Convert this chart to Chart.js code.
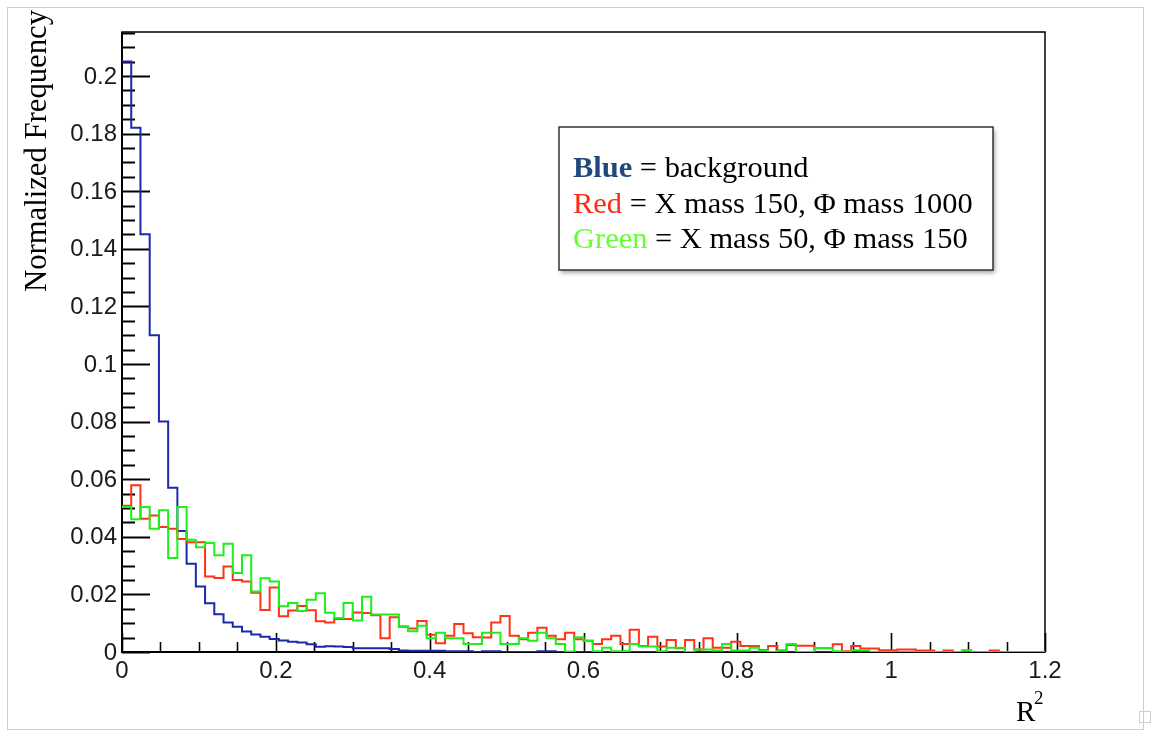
<!DOCTYPE html>
<html>
<head>
<meta charset="utf-8">
<script src="https://cdn.jsdelivr.net/npm/chart.js@4.4.1/dist/chart.umd.min.js"></script>
<style>
html, body { margin: 0; padding: 0; background: #fff; }
</style>
</head>
<body>
<canvas id="chart" width="1151" height="732"></canvas>
<script>
var binWidth = 0.012;
var xMax = 1.2;
var yMax = 0.21525;

// background
var blueValues = [
	0.205, 0.182, 0.145, 0.110, 0.080, 0.057, 0.042, 0.0306, 0.0227, 0.0169,
	0.0131, 0.0102, 0.0088, 0.0071, 0.0061, 0.0053, 0.0045, 0.0040, 0.0036, 0.0033,
	0.0027, 0.0018, 0.0020, 0.0019, 0.0017, 0.0013, 0.0013, 0.0013, 0.0013, 0.0010,
	0.0005, 0.0004, 0.0004, 0.0004, 0.0004, 0.0003, 0.0003, 0.0003, 0, 0.0003,
	0.0003, 0, 0, 0, 0, 0.0003, 0.0003, 0, 0, 0,
	0, 0, 0, 0, 0, 0, 0, 0, 0, 0,
	0, 0, 0, 0, 0, 0, 0, 0, 0, 0,
	0, 0, 0, 0, 0, 0, 0, 0, 0, 0,
	0, 0, 0, 0, 0, 0, 0, 0, 0, 0,
	0, 0, 0, 0, 0, 0, 0, 0, 0, 0
];
// X mass 150, Phi mass 1000
var redValues = [
	0.0508, 0.0579, 0.0463, 0.0474, 0.0434, 0.0428, 0.0392, 0.0381, 0.0381, 0.0262,
	0.0257, 0.0297, 0.0250, 0.0245, 0.0206, 0.0146, 0.0224, 0.0124, 0.0144, 0.0160,
	0.0145, 0.0107, 0.0102, 0.0115, 0.0115, 0.0137, 0.0135, 0.0128, 0.0048, 0.0121,
	0.0088, 0.0082, 0.0108, 0.0060, 0.0030, 0.0056, 0.0097, 0.0065, 0.0051, 0.0050,
	0.0102, 0.0125, 0.0056, 0.0044, 0.0067, 0.0084, 0.0056, 0.0044, 0.0067, 0.0044,
	0.0039, 0.0028, 0.0044, 0.0056, 0.0028, 0.0077, 0.0021, 0.0053, 0.0019, 0.0042,
	0.0013, 0.0042, 0.0009, 0.0048, 0.0015, 0.0015, 0.0036, 0.0021, 0.0021, 0.0007,
	0.0021, 0.0005, 0.0024, 0.0022, 0.0022, 0.0013, 0.0013, 0.0027, 0.0003, 0.0021,
	0.0012, 0.0012, 0.0006, 0.0006, 0.0009, 0.0009, 0.0005, 0.0005, 0, 0.0005,
	0, 0.0004, 0, 0, 0.0005, 0, 0, 0, 0, 0
];
// X mass 50, Phi mass 150
var greenValues = [
	0.0503, 0.0461, 0.0503, 0.0428, 0.0492, 0.0326, 0.0503, 0.0390, 0.0364, 0.0378,
	0.0336, 0.0376, 0.0274, 0.0336, 0.0210, 0.0256, 0.0245, 0.0159, 0.0170, 0.0142,
	0.0181, 0.0204, 0.0136, 0.0118, 0.0170, 0.0109, 0.0192, 0.0130, 0.0130, 0.0130,
	0.0089, 0.0072, 0.0091, 0.0048, 0.0067, 0.0048, 0.0048, 0.0028, 0.0028, 0.0067,
	0.0067, 0.0028, 0.0028, 0.0048, 0.0039, 0.0067, 0.0048, 0.0028, 0.0002, 0.0051,
	0.0039, 0.0003, 0.0015, 0.0003, 0.0003, 0.0028, 0.0019, 0.0019, 0.0003, 0.0015,
	0.0015, 0, 0.0009, 0.0009, 0.0005, 0.0028, 0.0005, 0.0005, 0.0015, 0.0005,
	0, 0.0005, 0.0028, 0, 0, 0.0014, 0.0014, 0.0003, 0, 0.0006,
	0.0006, 0, 0, 0, 0, 0, 0, 0, 0, 0,
	0, 0.0006, 0, 0, 0, 0, 0, 0, 0, 0
];

var xTickValues = [0, 0.2, 0.4, 0.6, 0.8, 1, 1.2];
var xTickLabels = ['0', '0.2', '0.4', '0.6', '0.8', '1', '1.2'];
var xMinorStep = 0.05;
var yTickValues = [0, 0.02, 0.04, 0.06, 0.08, 0.1, 0.12, 0.14, 0.16, 0.18, 0.2];
var yTickLabels = ['0', '0.02', '0.04', '0.06', '0.08', '0.1', '0.12', '0.14', '0.16', '0.18', '0.2'];
var yMinorStep = 0.005;

var legendLines = [
	{ key: 'Blue', keyColor: '#1f497d', bold: true, rest: ' = background' },
	{ key: 'Red', keyColor: '#ff2a10', bold: false, rest: ' = X mass 150, \u03A6 mass 1000' },
	{ key: 'Green', keyColor: '#66ff33', bold: false, rest: ' = X mass 50, \u03A6 mass 150' }
];

// one point per bin at its lower edge, plus the closing edge
function histPoints(values) {
	var pts = values.map(function (v, i) { return { x: i * binWidth, y: v }; });
	pts.push({ x: values.length * binWidth, y: 0 });
	return pts;
}

var serif = '"Liberation Serif", "Times New Roman", serif';
var sans = '"Liberation Sans", Arial, Helvetica, sans-serif';

var rootAxes = {
	id: 'rootAxes',
	beforeDatasetsDraw: function (chart) {
		var c = chart.ctx, a = chart.chartArea;
		var xs = chart.scales.x, ys = chart.scales.y;
		c.save();
		c.strokeStyle = '#000';
		c.lineWidth = 1.5;
		c.strokeRect(a.left, a.top, a.right - a.left, a.bottom - a.top);
		c.lineWidth = 2;
		c.beginPath();
		c.moveTo(a.left, a.top); c.lineTo(a.left, a.bottom); c.lineTo(a.right, a.bottom);
		c.stroke();

		// y ticks, pointing inwards
		var n = Math.floor(yMax / yMinorStep + 1e-6);
		c.lineWidth = 2;
		for (var k = 0; k <= n; k++) {
			var py = Math.round(ys.getPixelForValue(k * yMinorStep)) + 0.5;
			var len = (k % 4 === 0) ? 28 : 13;
			c.beginPath(); c.moveTo(a.left, py); c.lineTo(a.left + len, py); c.stroke();
		}
		// x ticks, pointing up
		var m = Math.round(xMax / xMinorStep);
		c.lineWidth = 1.6;
		for (var j = 0; j <= m; j++) {
			var px = Math.round(xs.getPixelForValue(j * xMinorStep)) + 0.5;
			var l2 = (j % 4 === 0) ? 19 : 10;
			c.beginPath(); c.moveTo(px, a.bottom); c.lineTo(px, a.bottom - l2); c.stroke();
		}

		c.fillStyle = '#1a1a1a';
		c.font = '24px ' + sans;
		c.textAlign = 'right'; c.textBaseline = 'middle';
		yTickValues.forEach(function (v, i) {
			c.fillText(yTickLabels[i], a.left - 5, ys.getPixelForValue(v) + 1);
		});
		c.textAlign = 'center'; c.textBaseline = 'top';
		xTickValues.forEach(function (v, i) {
			c.fillText(xTickLabels[i], xs.getPixelForValue(v), a.bottom + 7);
		});
		c.restore();
	},
	afterDraw: function (chart) {
		var c = chart.ctx;
		c.save();
		// outer picture border
		c.strokeStyle = '#cfcfcf'; c.lineWidth = 1;
		c.strokeRect(7.5, 7.5, 1136, 722);
		c.strokeRect(1139.5, 711.5, 11, 11);

		// axis titles
		c.fillStyle = '#000';
		c.font = '31px ' + serif;
		var yTitle = 'Normalized Frequency';
		var w = c.measureText(yTitle).width;
		c.save();
		c.translate(46, 10);
		c.rotate(-Math.PI / 2);
		c.scale(282 / w, 1);
		c.textAlign = 'right'; c.textBaseline = 'alphabetic';
		c.fillText(yTitle, 0, 0);
		c.restore();

		c.textAlign = 'left'; c.textBaseline = 'alphabetic';
		c.font = '29px ' + serif;
		c.fillText('R', 1016, 721);
		c.font = '19px ' + serif;
		c.fillText('2', 1034, 704);

		// legend box
		c.save();
		c.shadowColor = 'rgba(0,0,0,0.35)';
		c.shadowBlur = 4; c.shadowOffsetX = 2; c.shadowOffsetY = 3;
		c.fillStyle = '#fff';
		c.fillRect(559, 127, 434, 143);
		c.restore();
		c.strokeStyle = '#333'; c.lineWidth = 1.5;
		c.strokeRect(559, 127, 434, 143);

		c.font = '30px ' + serif;
		var wRef = c.measureText(legendLines[1].key + legendLines[1].rest).width;
		var size = 30 * 400 / wRef;
		var baselines = [177, 213, 248];
		legendLines.forEach(function (ln, i) {
			var x = 573;
			c.font = (ln.bold ? 'bold ' : '') + size + 'px ' + serif;
			c.fillStyle = ln.keyColor;
			c.fillText(ln.key, x, baselines[i]);
			x += c.measureText(ln.key).width;
			c.font = size + 'px ' + serif;
			c.fillStyle = '#000';
			c.fillText(ln.rest, x, baselines[i]);
		});
		c.restore();
	}
};

var ctx = document.getElementById('chart').getContext('2d');
new Chart(ctx, {
	type: 'line',
	data: {
		datasets: [
			{ label: 'Blue', data: histPoints(blueValues), borderColor: '#1a2aa8', order: 3 },
			{ label: 'Red', data: histPoints(redValues), borderColor: '#ff3318', order: 2 },
			{ label: 'Green', data: histPoints(greenValues), borderColor: '#1cf01c', order: 1 }
		]
	},
	options: {
		responsive: false,
		animation: false,
		devicePixelRatio: 1,
		layout: { padding: { left: 122, top: 32, right: 106, bottom: 80 } },
		plugins: { legend: { display: false }, tooltip: { enabled: false } },
		elements: {
			point: { radius: 0 },
			// horizontal at the bin value first, then the vertical edge
			line: { borderWidth: 2, stepped: true, tension: 0, fill: false }
		},
		scales: {
			x: { type: 'linear', min: 0, max: xMax, display: false },
			y: { type: 'linear', min: 0, max: yMax, display: false }
		}
	},
	plugins: [rootAxes]
});
</script>
</body>
</html>
